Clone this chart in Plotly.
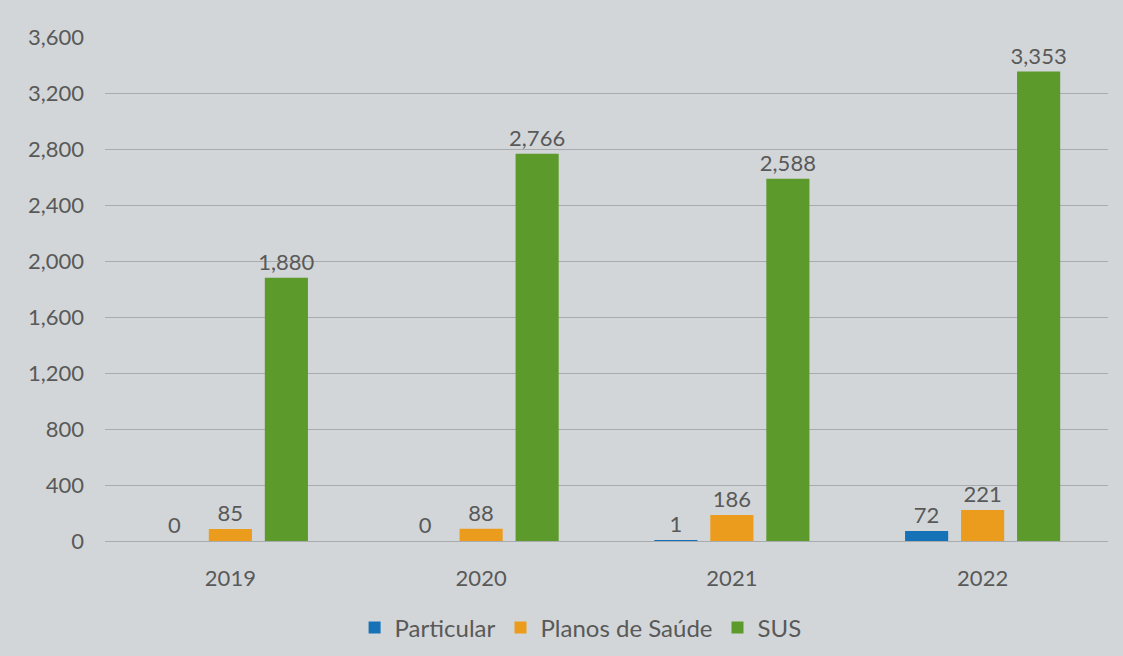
import plotly.graph_objects as go

# Dados
anos = ["2019", "2020", "2021", "2022"]
particular = [0, 0, 1, 72]
planos_saude = [85, 88, 186, 221]
sus = [1880, 2766, 2588, 3353]

series = [
    ("Particular", particular, "#1672b6"),
    ("Planos de Saúde", planos_saude, "#ec9c1c"),
    ("SUS", sus, "#5c9a2c"),
]

fig = go.Figure()
for nome, valores, cor in series:
    fig.add_trace(go.Bar(
        name=nome,
        x=anos,
        y=valores,
        marker=dict(color=cor, line=dict(width=0)),
        text=[f"{v:,}" for v in valores],
        textposition="outside",
        constraintext="none",
        cliponaxis=False,
        textfont=dict(size=22, color="#595959"),
    ))

fig.update_layout(
    width=1123,
    height=656,
    barmode="group",
    bargap=0.33,
    bargroupgap=0.23,
    paper_bgcolor="#d2d6d8",
    plot_bgcolor="#d2d6d8",
    font=dict(family="Lato, Open Sans, sans-serif", size=22, color="#595959"),
    margin=dict(l=105, r=15, t=37, b=115),
    showlegend=True,
    legend=dict(
        orientation="h",
        xref="container", yref="container",
        x=0.517, xanchor="center",
        y=0.043, yanchor="middle",
        font=dict(size=24, color="#595959"),
        bgcolor="rgba(0,0,0,0)",
    ),
)

fig.update_yaxes(
    range=[0, 3600],
    dtick=400,
    tickformat=",",
    showgrid=True,
    gridcolor="#a9acae",
    gridwidth=1,
    zeroline=True,
    zerolinecolor="#a9acae",
    zerolinewidth=1,
    ticks="",
    ticklabelstandoff=20,
    tickfont=dict(size=22, color="#595959"),
)
fig.update_xaxes(
    showgrid=False,
    showline=False,
    ticks="",
    ticklabelstandoff=22,
    tickfont=dict(size=22, color="#595959"),
)

fig.write_html(
    "out.html",
    config={"displayModeBar": False},
    post_script="document.body.style.margin='0';document.body.style.overflow='hidden';",
)
